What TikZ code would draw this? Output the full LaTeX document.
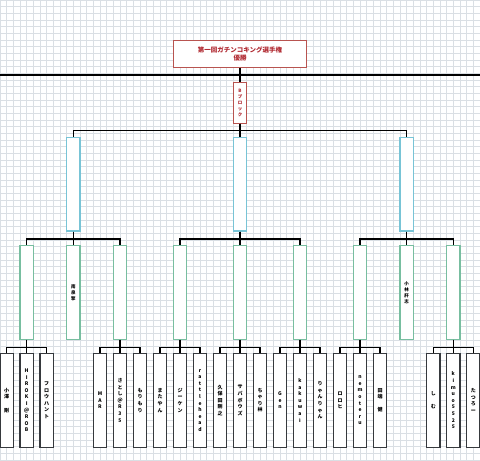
\documentclass[tikz,border=0pt]{standalone}
\usepackage{fontspec}
\setmainfont{Noto Sans CJK JP}
\definecolor{gridc}{RGB}{218,223,228}
\definecolor{redb}{RGB}{184,84,80}
\definecolor{redt}{RGB}{176,40,48}
\definecolor{blueb}{RGB}{120,196,214}
\definecolor{greenb}{RGB}{120,190,160}
\definecolor{darkb}{RGB}{54,57,61}
\tikzset{
  titlebox/.style={draw=redb, line width=1pt, fill=white, minimum width=133.3pt, minimum height=26.7pt, inner sep=0pt, text=redt, font=\fontsize{6.5}{8.3}\selectfont\bfseries, align=center},
  blockbox/.style={draw=redb, line width=1pt, fill=white, minimum width=13.3pt, minimum height=41pt, inner sep=0pt, text=redt, font=\fontsize{4.5}{6}\selectfont\bfseries, align=center},
  bluebox/.style={draw=blueb, line width=1.2pt, fill=white, minimum width=13.3pt, minimum height=93.7pt, inner sep=0pt},
  greenbox/.style={draw=greenb, line width=1.2pt, fill=white, minimum width=13.3pt, minimum height=93.7pt, inner sep=0pt, font=\fontsize{4.5}{6}\selectfont\bfseries, align=center},
  namebox/.style={draw=darkb, line width=1.2pt, fill=white, minimum width=13.3pt, minimum height=94pt, inner sep=0pt, font=\fontsize{5}{6.6}\selectfont\bfseries, align=center},
  conn/.style={draw=black, line width=1.1pt}
}
\begin{document}
\begin{tikzpicture}[x=1pt,y=-1pt]
\useasboundingbox (0,0) rectangle (480,461);
\fill[white] (0,0) rectangle (480,461);
\foreach \i in {0,...,72} \draw[gridc, line width=0.6pt] ({\i*20/3},0) -- ({\i*20/3},461);
\foreach \j in {0,...,69} \draw[gridc, line width=0.6pt] (0,{\j*20/3}) -- (480,{\j*20/3});
% top horizontal line
\coordinate (hl) at (0,75);
\coordinate (hr) at (480,75);
\draw[line width=1.3pt] (hl) -- (hr);
% title and block
\node[titlebox] (title) at (240,54) {第一回ガチンコキング選手権\\優勝};
\node[blockbox] (B) at (240,102.7) {B\\ブ\\ロ\\ッ\\ク};
\draw[conn] (title.south) -- (B.north);
% level 2 (blue)
\node[bluebox] (L1) at (73.33,184.2) {};
\node[bluebox] (L2) at (240,184.2) {};
\node[bluebox] (L3) at (406.67,184.2) {};
% level 3 (green)
\node[greenbox] (G1) at (26.67,292.5) {};
\node[greenbox] (G2) at (73.33,292.5) {南\\泉\\擎};
\node[greenbox] (G3) at (120,292.5) {};
\node[greenbox] (G4) at (180,292.5) {};
\node[greenbox] (G5) at (240,292.5) {};
\node[greenbox] (G6) at (300,292.5) {};
\node[greenbox] (G7) at (360,292.5) {};
\node[greenbox] (G8) at (406.67,292.5) {小\\林\\肝\\志};
\node[greenbox] (G9) at (453.33,292.5) {};
% level 4 (names)
\node[namebox] (P1) at (6.67,400.3) {小\\澤\\　\\剛};
\node[namebox] (P2) at (26.67,400.3) {H\\I\\R\\O\\K\\I\\＠\\R\\O\\B};
\node[namebox] (P3) at (46.67,400.3) {フ\\ロ\\ウ\\ハ\\ン\\ト};
\node[namebox] (P4) at (100,400.3) {M\\A\\R};
\node[namebox] (P5) at (120,400.3) {さ\\と\\し\\＠\\R\\3\\5};
\node[namebox] (P6) at (140,400.3) {も\\り\\も\\り};
\node[namebox] (P7) at (160,400.3) {ま\\た\\や\\ん};
\node[namebox] (P8) at (180,400.3) {ジ\\ー\\ケ\\ン};
\node[namebox] (P9) at (200,400.3) {r\\a\\t\\t\\l\\e\\h\\e\\a\\d};
\node[namebox] (P10) at (220,400.3) {久\\保\\田\\剛\\之};
\node[namebox] (P11) at (240,400.3) {サ\\バ\\ボ\\ウ\\ズ};
\node[namebox] (P12) at (260,400.3) {ち\\ゃ\\り\\林};
\node[namebox] (P13) at (280,400.3) {G\\e\\n};
\node[namebox] (P14) at (300,400.3) {k\\a\\k\\u\\w\\a\\i};
\node[namebox] (P15) at (320,400.3) {り\\ゃ\\ん\\り\\ゃ\\ん};
\node[namebox] (P16) at (340,400.3) {ロ\\ロ\\ヒ};
\node[namebox] (P17) at (360,400.3) {n\\e\\m\\o\\t\\e\\r\\u};
\node[namebox] (P18) at (380,400.3) {田\\端\\　\\健};
\node[namebox] (P19) at (433.33,400.3) {し\\　\\む};
\node[namebox] (P20) at (453.33,400.3) {k\\i\\m\\u\\o\\5\\5\\2\\5};
\node[namebox] (P21) at (473.33,400.3) {た\\つ\\ろ\\ー};
% connectors
\foreach \c in {L1,L2,L3} \draw[conn] (B.south) -- ++(0,6.7) -| (\c.north);
\foreach \p/\c in {L1/G1,L1/G2,L1/G3,L2/G4,L2/G5,L2/G6,L3/G7,L3/G8,L3/G9}
  \draw[conn] (\p.south) -- ++(0,7.3) -| (\c.north);
\foreach \p/\c in {G1/P1,G1/P2,G1/P3,G3/P4,G3/P5,G3/P6,G4/P7,G4/P8,G4/P9,G5/P10,G5/P11,G5/P12,G6/P13,G6/P14,G6/P15,G7/P16,G7/P17,G7/P18,G9/P19,G9/P20,G9/P21}
  \draw[conn] (\p.south) -- ++(0,7.3) -| (\c.north);
\end{tikzpicture}
\end{document}
